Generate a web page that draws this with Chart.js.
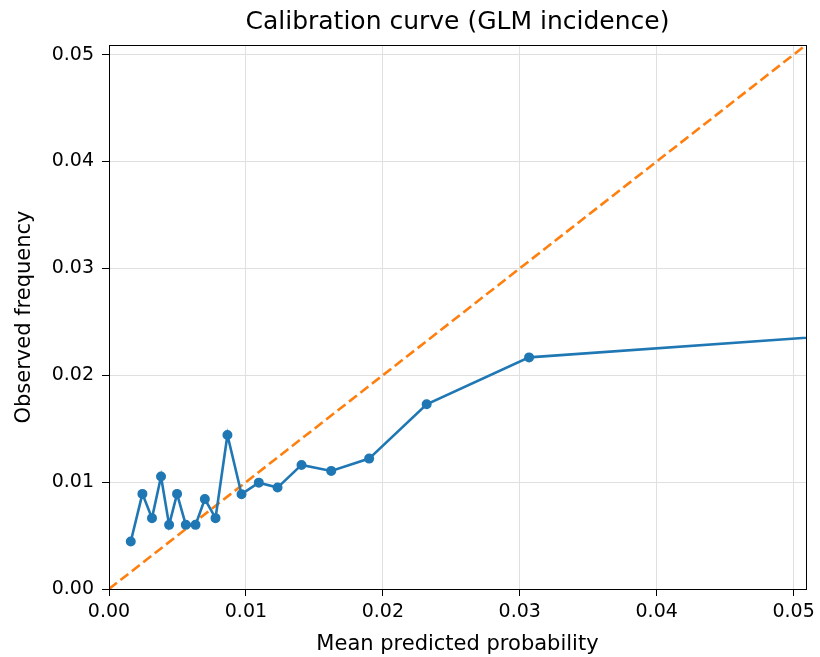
<!DOCTYPE html>
<html>
<head>
<meta charset="utf-8">
<script src="https://cdn.jsdelivr.net/npm/chart.js@4.4.1/dist/chart.umd.min.js"></script>
<style>
  html, body { margin: 0; padding: 0; background: #fff; }
  #wrap { width: 820px; height: 657px; }
</style>
</head>
<body>
<div id="wrap"><canvas id="chart" width="820" height="657"></canvas></div>
<script>
// calibration bins
const meanPredicted = [0.00159, 0.00244, 0.00314, 0.0038, 0.00439, 0.00497, 0.00561, 0.00632, 0.007, 0.00778,
  0.00865, 0.00968, 0.01094, 0.01231, 0.01406, 0.01623, 0.019, 0.0232, 0.03068, 0.075];
const observedFreq = [0.00445, 0.0089, 0.00663, 0.01052, 0.006, 0.0089, 0.006, 0.006, 0.00841, 0.00663,
  0.01441, 0.00887, 0.00995, 0.00949, 0.01161, 0.01105, 0.0122, 0.01728, 0.02167, 0.0257];
// perfect calibration reference line
const diagX = [0, 0.06];
const diagY = [0, 0.06];
const tickValues = [0, 0.01, 0.02, 0.03, 0.04, 0.05];
const axisMax = 0.0509;

const FONT = "'DejaVu Sans', sans-serif";

// draws the box around the plot like matplotlib spines
const frame = {
  id: 'frame',
  afterDraw(chart) {
    const { ctx, chartArea: a } = chart;
    ctx.save();
    ctx.strokeStyle = '#000';
    ctx.lineWidth = 1;
    ctx.strokeRect(Math.round(a.left) + 0.5, Math.round(a.top) + 0.5,
      Math.round(a.right - a.left), Math.round(a.bottom - a.top));
    ctx.restore();
  }
};

const toPoints = (xs, ys) => xs.map((x, i) => ({ x: x, y: ys[i] }));

new Chart(document.getElementById('chart'), {
  type: 'line',
  data: {
    datasets: [{
      label: 'GLM',
      data: toPoints(meanPredicted, observedFreq),
      borderColor: '#1f77b4',
      backgroundColor: '#1f77b4',
      borderWidth: 2.6,
      pointRadius: 3.7,
      pointHoverRadius: 3.7,
      tension: 0
    }, {
      label: 'Perfect',
      data: toPoints(diagX, diagY),
      borderColor: '#ff7f0e',
      borderWidth: 2.6,
      borderDash: [10, 4.5],
      pointRadius: 0,
      tension: 0
    }]
  },
  options: {
    responsive: false,
    animation: false,
    layout: { padding: { left: 0, right: 14, top: 0, bottom: 0 } },
    plugins: {
      legend: { display: false },
      tooltip: { enabled: false },
      title: {
        display: true,
        text: 'Calibration curve (GLM incidence)',
        color: '#000',
        fullSize: false,
        font: { family: FONT, size: 25, weight: 'normal' },
        padding: { top: 7, bottom: 8 }
      }
    },
    scales: {
      x: {
        type: 'linear',
        min: 0,
        max: axisMax,
        afterFit(scale) { scale.height = 68; },
        afterBuildTicks(scale) { scale.ticks = tickValues.map(v => ({ value: v })); },
        ticks: {
          color: '#000',
          padding: 5,
          maxRotation: 0,
          font: { family: FONT, size: 19 },
          callback: v => v.toFixed(2)
        },
        grid: { color: '#e0e0e0', tickColor: '#000', tickLength: 7 },
        border: { color: '#000' },
        title: {
          display: true,
          text: 'Mean predicted probability',
          color: '#000',
          font: { family: FONT, size: 21 },
          padding: { top: 0, bottom: 0 }
        }
      },
      y: {
        type: 'linear',
        min: 0,
        max: axisMax,
        afterFit(scale) { scale.width = 109; },
        afterBuildTicks(scale) { scale.ticks = tickValues.map(v => ({ value: v })); },
        ticks: {
          color: '#000',
          padding: 8,
          font: { family: FONT, size: 19 },
          callback: v => v.toFixed(2)
        },
        grid: { color: '#e0e0e0', tickColor: '#000', tickLength: 7 },
        border: { color: '#000' },
        title: {
          display: true,
          text: 'Observed frequency',
          color: '#000',
          font: { family: FONT, size: 21 },
          padding: { top: 12, bottom: 0 }
        }
      }
    }
  },
  plugins: [frame]
});
</script>
</body>
</html>
